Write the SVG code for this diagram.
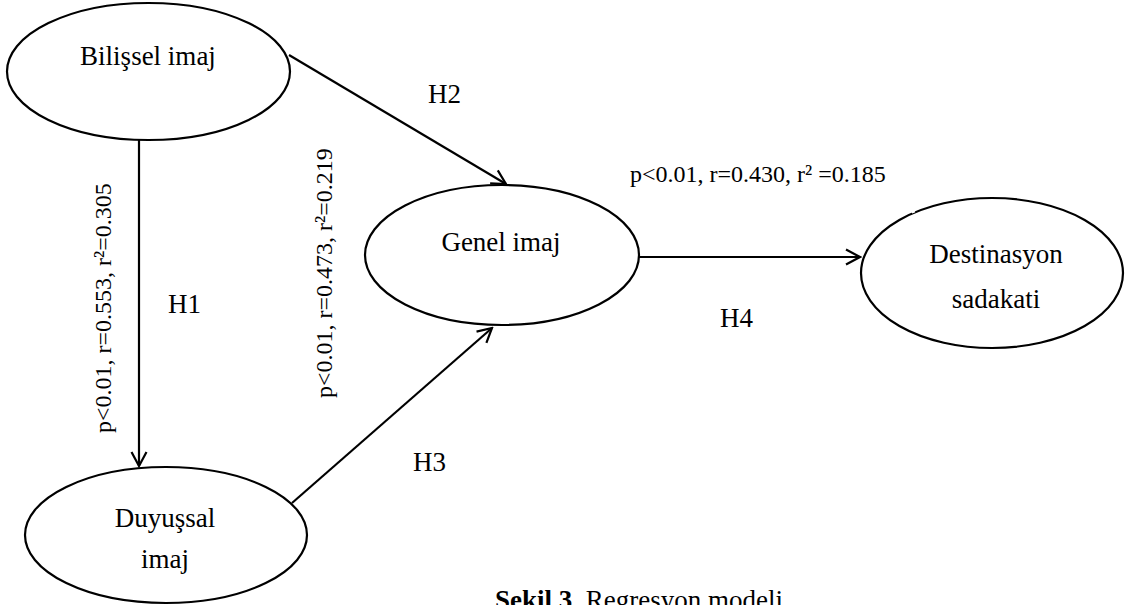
<svg xmlns="http://www.w3.org/2000/svg" width="1125" height="605" viewBox="0 0 1125 605">
  <style>
    .node { fill: #ffffff; stroke: #000000; stroke-width: 2.2; }
    .lbl { font-family: "Liberation Serif", "Times New Roman", serif; font-size: 27px; fill: #000; text-anchor: middle; }
    .h { font-family: "Liberation Serif", "Times New Roman", serif; font-size: 27px; fill: #000; }
    .stat { font-family: "Liberation Serif", "Times New Roman", serif; font-size: 24px; fill: #000; }
    .conn { stroke: #000; stroke-width: 2.2; fill: none; marker-end: url(#arr); }
  </style>
  <defs>
    <marker id="arr" markerUnits="userSpaceOnUse" viewBox="-18 -10 20 20" markerWidth="20" markerHeight="20" refX="0" refY="0" orient="auto">
      <path d="M-14,-7.5 L0,0 L-14,7.5" fill="none" stroke="#000" stroke-width="2.2" stroke-linejoin="miter"/>
    </marker>
  </defs>
  <rect width="1125" height="605" fill="#ffffff"/>

  <g id="connectors">
    <line class="conn" x1="139" y1="140" x2="139" y2="466"/>
    <line class="conn" x1="289" y1="55" x2="506" y2="184"/>
    <line class="conn" x1="292" y1="503" x2="492" y2="328"/>
    <line class="conn" x1="639" y1="257" x2="860" y2="257"/>
  </g>

  <g id="bilissel">
    <ellipse class="node" cx="148.5" cy="71.5" rx="141.5" ry="68.5"/>
    <text class="lbl" x="148" y="65">Bilişsel imaj</text>
  </g>

  <g id="genel">
    <ellipse class="node" cx="502" cy="255" rx="137" ry="70"/>
    <text class="lbl" x="501" y="251">Genel imaj</text>
  </g>

  <g id="duyussal">
    <ellipse class="node" cx="166" cy="535" rx="141" ry="68"/>
    <text class="lbl" x="165" y="527">Duyuşsal</text>
    <text class="lbl" x="165" y="568">imaj</text>
  </g>

  <g id="destinasyon">
    <ellipse class="node" cx="992" cy="273" rx="131" ry="75"/>
    <line x1="911.5" y1="211.6" x2="914.5" y2="210.3" stroke="#ffffff" stroke-width="4"/>
    <text class="lbl" x="996" y="263">Destinasyon</text>
    <text class="lbl" x="996" y="308">sadakati</text>
  </g>

  <g id="labels">
    <text class="h" x="168" y="313">H1</text>
    <text class="h" x="428" y="103">H2</text>
    <text class="h" x="413" y="471">H3</text>
    <text class="h" x="720" y="327">H4</text>
    <text class="stat" x="630" y="182">p&lt;0.01, r=0.430, r² =0.185</text>
    <text class="stat" transform="translate(111,433) rotate(-90)">p&lt;0.01, r=0.553, r²=0.305</text>
    <text class="stat" transform="translate(332,398) rotate(-90)">p&lt;0.01, r=0.473, r²=0.219</text>
  </g>

  <g id="caption">
    <text class="h" x="783" y="609" text-anchor="end"><tspan font-weight="bold">Şekil 3</tspan>. Regresyon modeli</text>
  </g>
</svg>
